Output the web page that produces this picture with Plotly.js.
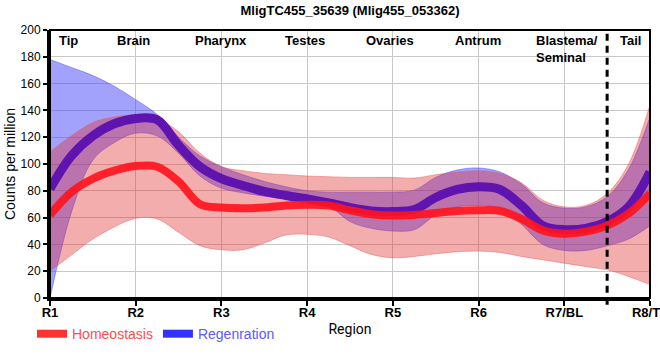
<!DOCTYPE html>
<html>
<head>
<meta charset="utf-8">
<script src="https://cdn.plot.ly/plotly-3.0.1.min.js"></script>
<style>html,body{margin:0;padding:0;background:#fff;}#chart{width:660px;height:360px;}</style>
</head>
<body>
<div id="chart"></div>
<script>
// Region positions along the body (1 = R1 ... 8 = R8/TL)
const xs = [1,1.25,1.5,1.75,2,2.25,2.5,2.75,3,3.25,3.5,3.75,4,4.25,4.5,4.75,5,5.25,5.5,5.75,6,6.25,6.5,6.75,7,7.25,7.5,7.75,8];
const tickVals = [1,2,3,4,5,6,7,8];
const tickText = ['R1','R2','R3','R4','R5','R6','R7/BL','R8/TL'];

// Homeostasis: mean, lower and upper band
const homeoMean = [62,79,89,95,98.5,98,87,70,67.5,67,67.5,69,69.5,69,65.5,62.5,61.5,62,63.5,65,65.5,65,59,50.5,48,49.5,54,63,78];
const homeoLow  = [20,32,44,53,59.5,59,49,39,36,36,41,47,47.5,45.5,39,32.5,30,31,33,34.5,35,34,31,28.5,26,23.5,21,16,10];
const homeoUp   = [109,121,131,135,136.5,134,124,108,98,95,93,92,91,90.5,90,90,90,89.5,92,94,95,93,86,73,68,69,78,100,144];

// Regeneration: mean, lower and upper band
const regenMean = [81.5,106,121,130,134,133,114,98,89,84,79.5,76.5,74,71,67.5,65,64.5,66,75,81,83,81,69,54,51,52,57,68,94];
const regenLow  = [0,64,103,116,123,121,108,91,82,78.5,76,74,73,69,57,52,50,51,62,68,69,67,55,40,35.5,35.5,39,44,54];
const regenUp   = [178,172,166,158,148,137,120,106,98,92,87,83,80,79,79,79,79,80.5,90,95.5,97,94,85,71,67,68,75.5,96,135];

// Region labels along the top
const regionNames = ['Tip','Brain','Pharynx','Testes','Ovaries','Antrum','Blastema/<br>Seminal','Tail'];
const regionPos   = [1.21,1.97,2.99,3.97,4.97,5.99,7.03,7.77];
const dividerPos = 7.5;

const sp = {shape:'spline', smoothing:1};
const traces = [
  {x:xs, y:regenUp, mode:'lines', line:Object.assign({color:'rgba(90,90,255,0.7)', width:0.8}, sp), showlegend:false, hoverinfo:'skip'},
  {x:xs, y:regenLow, mode:'lines', fill:'tonexty', fillcolor:'rgba(60,60,250,0.48)', line:Object.assign({color:'rgba(90,90,255,0.7)', width:0.8}, sp), showlegend:false, hoverinfo:'skip'},
  {x:xs, y:homeoUp, mode:'lines', line:Object.assign({color:'rgba(230,90,90,0.6)', width:0.8}, sp), showlegend:false, hoverinfo:'skip'},
  {x:xs, y:homeoLow, mode:'lines', fill:'tonexty', fillcolor:'rgba(225,40,40,0.38)', line:Object.assign({color:'rgba(230,90,90,0.6)', width:0.8}, sp), showlegend:false, hoverinfo:'skip'},
  {x:xs, y:regenMean, mode:'lines', line:Object.assign({color:'rgb(95,20,175)', width:9}, sp), showlegend:false},
  {x:xs, y:homeoMean, mode:'lines', line:Object.assign({color:'rgba(255,20,30,0.92)', width:8}, sp), showlegend:false},
  {x:[null], y:[null], mode:'lines', name:'<span style="color:#ff4d4d">Homeostasis</span>', line:{color:'rgb(255,50,50)', width:8}},
  {x:[null], y:[null], mode:'lines', name:'<span style="color:#5a5aff">Regenration</span>', line:{color:'rgb(50,50,255)', width:8}}
];

const annotations = regionNames.map((t,i)=>({
  x: regionPos[i], y: 0.995, xref:'x', yref:'paper', text:'<b>'+t+'</b>', showarrow:false,
  xanchor:'center', yanchor:'top', align:'left',
  font:{family:'Liberation Sans, Arial, sans-serif', size:13, color:'#000'}
}));

const layout = {
  width:660, height:360,
  margin:{l:50, r:10, t:30, b:60},
  paper_bgcolor:'#fff', plot_bgcolor:'#fff',
  title:{text:'<b>MligTC455_35639 (Mlig455_053362)</b>', x:0.5, xref:'paper', xanchor:'center', y:0.985, yref:'container', yanchor:'top',
         font:{family:'Liberation Sans, Arial, sans-serif', size:13, color:'#000'}},
  xaxis:{range:[1,8], tickvals:tickVals, ticktext:tickText, showgrid:true, gridcolor:'rgb(200,200,200)', gridwidth:1,
         zeroline:false, showline:true, linecolor:'#000', linewidth:3, ticks:'outside', ticklen:5, tickwidth:2, tickcolor:'#000',
         ticklabelstandoff:-5, ticklabeloverflow:'allow',
         tickfont:{family:'Liberation Sans, Arial, sans-serif', size:13, color:'#000', weight:'bold'},
         title:{text:'Region', standoff:6, font:{family:'Roboto, sans-serif', size:14, color:'#000'}}, automargin:false},
  yaxis:{range:[0,200], dtick:20, showgrid:true, gridcolor:'rgb(200,200,200)', gridwidth:1,
         zeroline:false, showline:true, linecolor:'#000', linewidth:3, ticks:'outside', ticklen:4, tickwidth:2, tickcolor:'#000',
         tickfont:{family:'Liberation Sans, Arial, sans-serif', size:12, color:'#000'},
         title:{text:'Counts per million', standoff:2, font:{family:'Liberation Sans, Arial, sans-serif', size:14, color:'#000'}}, automargin:false},
  legend:{orientation:'h', traceorder:'normal', x:-0.03, xanchor:'left', y:-0.075, yanchor:'top', bgcolor:'rgba(0,0,0,0)',
          font:{family:'Liberation Sans, Arial, sans-serif', size:14}},
  annotations: annotations,
  shapes:[
    {type:'rect', xref:'paper', yref:'paper', x0:0, x1:1, y0:0, y1:1, line:{color:'#000', width:2}, layer:'above'},
    {type:'line', xref:'x', yref:'paper', x0:dividerPos, x1:dividerPos, y0:-0.025, y1:1, line:{color:'#000', width:3, dash:'7px,5px'}, layer:'above'}
  ]
};

Plotly.newPlot('chart', traces, layout, {displayModeBar:false, staticPlot:true});
</script>
</body>
</html>
